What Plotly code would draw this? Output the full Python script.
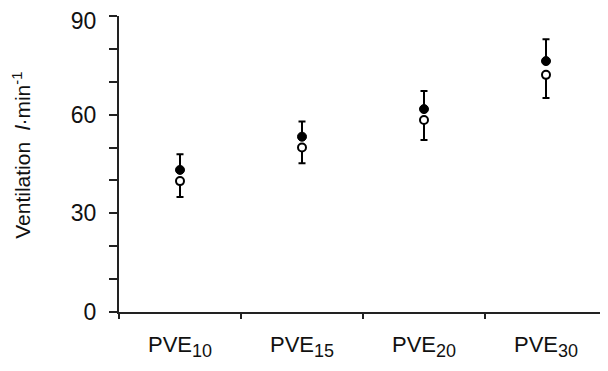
import plotly.graph_objects as go

categories = ["PVE10", "PVE15", "PVE20", "PVE30"]
filled_mean = [43.2, 53.3, 61.7, 76.3]
filled_sd = [4.8, 4.6, 5.5, 6.6]
open_mean = [39.8, 50.0, 58.4, 72.1]
open_sd = [4.8, 4.8, 6.1, 7.0]
y_ticks = [0, 30, 60, 90]

font = "Liberation Sans, Arial, sans-serif"
tick_text = ["PVE<sub><span style='font-size:18px'>%s</span></sub>" % c[3:] for c in categories]
y_text = [str(v) for v in y_ticks]
# top label sits a little lower, as in the reference
y_text[-1] = "<sub><span style='font-size:23px'>%s</span></sub>" % y_text[-1]

fig = go.Figure()
fig.add_trace(go.Scatter(
    x=categories, y=open_mean, mode="markers",
    marker=dict(symbol="circle", size=8, color="white", line=dict(color="black", width=2)),
    error_y=dict(type="data", symmetric=False, array=[0]*4, arrayminus=open_sd,
                 color="black", thickness=2, width=3.5),
    showlegend=False,
))
fig.add_trace(go.Scatter(
    x=categories, y=filled_mean, mode="markers",
    marker=dict(symbol="circle", size=9, color="black", line=dict(color="black", width=1)),
    error_y=dict(type="data", symmetric=False, array=filled_sd, arrayminus=[0]*4,
                 color="black", thickness=2, width=3.5),
    showlegend=False,
))

fig.update_layout(
    width=608, height=371,
    margin=dict(l=111, r=9, t=8, b=67, autoexpand=False),
    paper_bgcolor="white", plot_bgcolor="white",
    font=dict(family=font, size=20, color="#111"),
    xaxis=dict(
        type="category", range=[-0.5, 3.5], tickson="boundaries",
        tickvals=categories, ticktext=tick_text,
        showline=True, linecolor="#222", linewidth=2,
        ticks="outside", ticklen=5, tickwidth=2, tickcolor="#222",
        ticklabelstandoff=12,
        showgrid=False, zeroline=False, tickfont=dict(size=22),
    ),
    yaxis=dict(
        range=[0, 90], tickvals=y_ticks, ticktext=y_text,
        showline=True, linecolor="#222", linewidth=2,
        ticks="outside", ticklen=8, tickwidth=1.5, tickcolor="#222",
        minor=dict(dtick=10, ticks="outside", ticklen=8, tickwidth=1.5, tickcolor="#222", showgrid=False),
        showgrid=False, zeroline=False, tickfont=dict(size=23),
        ticklabelstandoff=8, ticklabeloverflow="allow",
        title=dict(text="&nbsp;&nbsp;&nbsp;Ventilation  <i>l</i>·min<sup>-1</sup>", font=dict(size=21), standoff=34),
    ),
)

fig.write_html("out.html")
